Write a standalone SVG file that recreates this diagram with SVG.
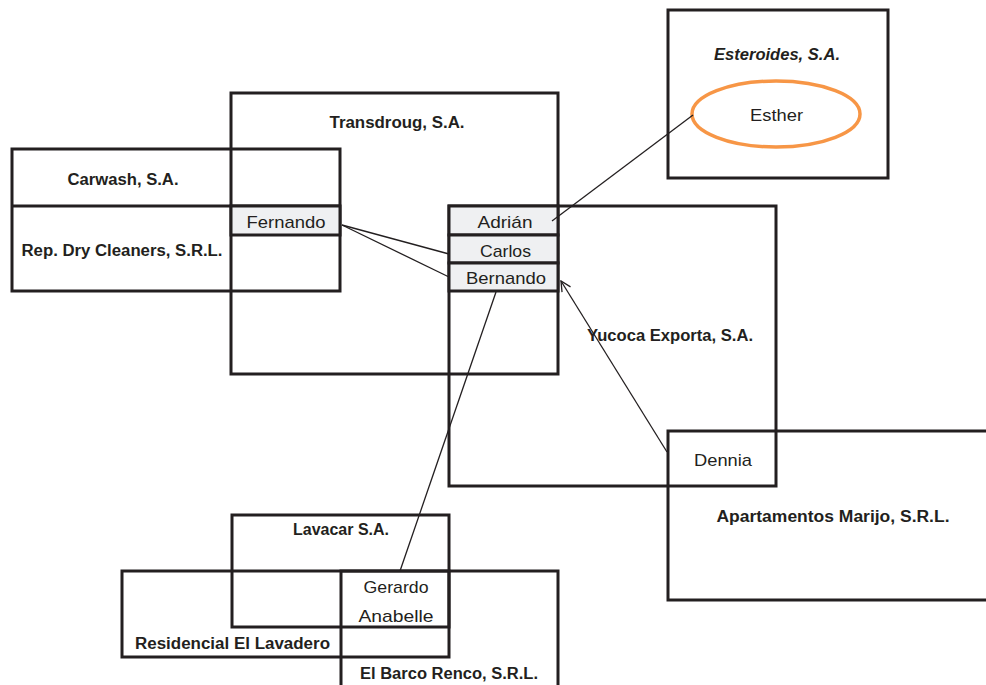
<svg xmlns="http://www.w3.org/2000/svg" width="986" height="685" viewBox="0 0 986 685">
<defs>
<style>
.box{fill:none;stroke:#231f20;stroke-width:3}
.cell{fill:#eff0f2;stroke:#231f20;stroke-width:3}
.sep{stroke:#231f20;stroke-width:3}
.co{font-family:"Liberation Sans",Arial,sans-serif;font-weight:bold;font-size:16px;fill:#231f20;text-anchor:middle}
.nm{font-family:"Liberation Sans",Arial,sans-serif;font-size:17px;fill:#231f20;text-anchor:middle}
.ln{stroke:#231f20;stroke-width:1.3;fill:none}
</style>
<marker id="arr" markerWidth="12" markerHeight="12" refX="11" refY="6" orient="auto" markerUnits="userSpaceOnUse">
<path d="M1,1 L11,6 L1,11" fill="none" stroke="#231f20" stroke-width="1.3"/>
</marker>
</defs>
<rect width="986" height="685" fill="#fff"/>

<g id="transdroug">
<rect class="box" x="231" y="93" width="327" height="281"/>
<text class="co" x="397" y="128" textLength="135" lengthAdjust="spacingAndGlyphs">Transdroug, S.A.</text>
</g>

<g id="carwash">
<rect class="box" x="12" y="149" width="328" height="142"/>
<line class="sep" x1="12" y1="206" x2="340" y2="206"/>
<text class="co" x="123" y="185" textLength="111" lengthAdjust="spacingAndGlyphs">Carwash, S.A.</text>
<text class="co" x="122" y="256" textLength="201" lengthAdjust="spacingAndGlyphs">Rep. Dry Cleaners, S.R.L.</text>
</g>

<g id="fernando">
<rect class="cell" x="231" y="206" width="109" height="29"/>
<text class="nm" x="286" y="228" textLength="79" lengthAdjust="spacingAndGlyphs">Fernando</text>
</g>

<g id="yucoca">
<rect class="box" x="449" y="206" width="327" height="280"/>
<text class="co" x="670" y="341" textLength="166" lengthAdjust="spacingAndGlyphs">Yucoca Exporta, S.A.</text>
</g>

<g id="adrian">
<rect class="cell" x="449" y="206" width="109" height="29"/>
<text class="nm" x="505" y="228" textLength="55" lengthAdjust="spacingAndGlyphs">Adrián</text>
</g>
<g id="carlos">
<rect class="cell" x="449" y="235" width="109" height="28"/>
<text class="nm" x="505.5" y="257" textLength="51" lengthAdjust="spacingAndGlyphs">Carlos</text>
</g>
<g id="bernando">
<rect class="cell" x="449" y="263" width="109" height="28"/>
<text class="nm" x="506" y="284" textLength="80" lengthAdjust="spacingAndGlyphs">Bernando</text>
</g>

<g id="esteroides">
<rect class="box" x="668" y="10" width="220" height="168"/>
<text class="co" x="777" y="60" font-style="italic" textLength="126" lengthAdjust="spacingAndGlyphs">Esteroides, S.A.</text>
</g>
<g id="esther">
<ellipse cx="776" cy="114" rx="84" ry="33" fill="none" stroke="#f79646" stroke-width="3.5"/>
<text class="nm" x="776.5" y="121" textLength="53" lengthAdjust="spacingAndGlyphs">Esther</text>
</g>

<g id="apartamentos">
<rect class="box" x="668" y="431" width="330" height="169"/>
<text class="co" x="833" y="522" textLength="233" lengthAdjust="spacingAndGlyphs">Apartamentos Marijo, S.R.L.</text>
</g>
<g id="dennia">
<text class="nm" x="723" y="466" textLength="58" lengthAdjust="spacingAndGlyphs">Dennia</text>
</g>

<g id="lavacar">
<rect class="box" x="232" y="515" width="217" height="112"/>
<text class="co" x="341" y="535" textLength="96" lengthAdjust="spacingAndGlyphs">Lavacar S.A.</text>
</g>
<g id="residencial">
<rect class="box" x="122" y="571" width="327" height="86"/>
<text class="co" x="232.5" y="649" textLength="195" lengthAdjust="spacingAndGlyphs">Residencial El Lavadero</text>
</g>
<g id="barco">
<rect class="box" x="341" y="571" width="217" height="130"/>
<text class="co" x="449" y="679" textLength="178" lengthAdjust="spacingAndGlyphs">El Barco Renco, S.R.L.</text>
</g>
<g id="gerardo">
<text class="nm" x="396" y="593" textLength="65" lengthAdjust="spacingAndGlyphs">Gerardo</text>
</g>
<g id="anabelle">
<text class="nm" x="396" y="622" textLength="75" lengthAdjust="spacingAndGlyphs">Anabelle</text>
</g>

<g id="connectors">
<line class="ln" x1="693" y1="115" x2="552" y2="221"/>
<line class="ln" x1="342" y1="225" x2="449" y2="254"/>
<line class="ln" x1="342" y1="225" x2="449" y2="277"/>
<line class="ln" x1="496" y1="292" x2="400" y2="571"/>
<line class="ln" x1="667" y1="452" x2="561" y2="281" marker-end="url(#arr)"/>
</g>
</svg>
